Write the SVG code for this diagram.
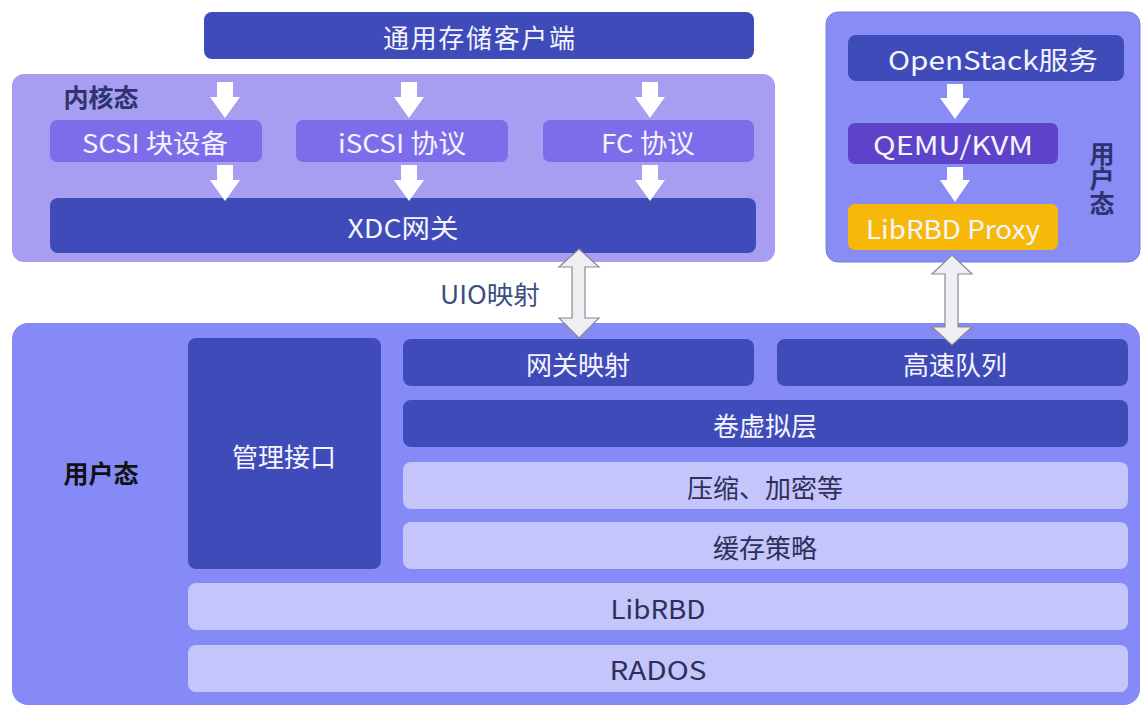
<svg xmlns="http://www.w3.org/2000/svg" width="1142" height="707" viewBox="0 0 1142 707">
<defs>
<style>
text{font-family:"Noto Sans CJK SC","Noto Sans",sans-serif;text-anchor:middle;dominant-baseline:central}
.t{fill:#f4f4ff;font-size:26px}
.td{fill:#2f2f5a;font-size:26px}
.dark{fill:#3f4bb8}
.mid{fill:#7e6deb}
.light{fill:#c4c5fb}
.lbl{font-size:25px;font-weight:bold}
.wa{fill:#ffffff}
.da{fill:#efeff3;stroke:#8a8a90;stroke-width:1.2}
</style>
</defs>
<rect width="1142" height="707" fill="#ffffff"/>
<g id="client">
<rect x="204" y="12" width="550" height="47" rx="8" class="dark"/>
<text x="479" y="36" class="t" textLength="192">通用存储客户端</text>
</g>
<g id="kernel">
<rect x="12" y="74" width="763" height="188" rx="12" fill="#a89ef1"/>
<text x="101" y="96" class="lbl" fill="#2d3370">内核态</text>
</g>
<g id="scsi">
<rect x="50" y="120" width="212" height="42" rx="7" class="mid"/>
<text x="155" y="141" class="t" textLength="146" lengthAdjust="spacingAndGlyphs">SCSI 块设备</text>
</g>
<g id="iscsi">
<rect x="296" y="120" width="212" height="42" rx="7" class="mid"/>
<text x="402" y="141" class="t" textLength="128" lengthAdjust="spacingAndGlyphs">iSCSI 协议</text>
</g>
<g id="fc">
<rect x="543" y="120" width="211" height="42" rx="7" class="mid"/>
<text x="648" y="141" class="t" textLength="94" lengthAdjust="spacingAndGlyphs">FC 协议</text>
</g>
<g id="xdc">
<rect x="50" y="198" width="706" height="55" rx="8" class="dark"/>
<text x="403" y="226" class="t" textLength="111" lengthAdjust="spacingAndGlyphs">XDC网关</text>
</g>
<g id="userbox-right">
<rect x="826" y="12" width="314" height="250" rx="12" fill="#8a8cf6" stroke="#7a7cd8" stroke-width="1"/>
<text x="1102" y="178" class="lbl" fill="#2d3370" style="writing-mode:vertical-rl">用户态</text>
</g>
<g id="openstack">
<rect x="848" y="35" width="276" height="46" rx="8" class="dark"/>
<text x="993" y="58" class="t" textLength="210" lengthAdjust="spacingAndGlyphs">OpenStack服务</text>
</g>
<g id="qemu">
<rect x="848" y="123" width="210" height="41" rx="7" fill="#5d43c9"/>
<text x="953" y="143" class="t" textLength="160" lengthAdjust="spacingAndGlyphs">QEMU/KVM</text>
</g>
<g id="librbdproxy">
<rect x="848" y="204" width="210" height="46" rx="7" fill="#f6b90a"/>
<text x="953" y="227" class="t" textLength="174" lengthAdjust="spacingAndGlyphs">LibRBD Proxy</text>
</g>
<g id="userbox-bottom">
<rect x="12" y="323" width="1128" height="382" rx="16" fill="#868af7"/>
<text x="101" y="472" class="lbl" fill="#111111">用户态</text>
</g>
<g id="mgmt">
<rect x="188" y="338" width="193" height="231" rx="8" class="dark"/>
<text x="284" y="455" class="t">管理接口</text>
</g>
<g id="gwmap">
<rect x="403" y="339" width="351" height="47" rx="8" class="dark"/>
<text x="578" y="363" class="t">网关映射</text>
</g>
<g id="queue">
<rect x="777" y="339" width="351" height="47" rx="8" class="dark"/>
<text x="955" y="363" class="t">高速队列</text>
</g>
<g id="volume">
<rect x="403" y="400" width="725" height="47" rx="8" class="dark"/>
<text x="765" y="424" class="t">卷虚拟层</text>
</g>
<g id="compress">
<rect x="403" y="462" width="725" height="47" rx="8" class="light"/>
<text x="765" y="486" class="td">压缩、加密等</text>
</g>
<g id="cache">
<rect x="403" y="522" width="725" height="47" rx="8" class="light"/>
<text x="765" y="546" class="td">缓存策略</text>
</g>
<g id="librbd">
<rect x="188" y="583" width="940" height="47" rx="8" class="light"/>
<text x="658" y="607" class="td" textLength="95" lengthAdjust="spacingAndGlyphs">LibRBD</text>
</g>
<g id="rados">
<rect x="188" y="645" width="940" height="47" rx="8" class="light"/>
<text x="658" y="668" class="td" textLength="97" lengthAdjust="spacingAndGlyphs">RADOS</text>
</g>
<g id="connectors">
<polygon class="wa" points="217,82 233,82 233,97 240,97 225,118 210,97 217,97"/>
<polygon class="wa" points="217,165 233,165 233,180 240,180 225,201 210,180 217,180"/>
<polygon class="wa" points="401,82 417,82 417,97 424,97 409,118 394,97 401,97"/>
<polygon class="wa" points="401,165 417,165 417,180 424,180 409,201 394,180 401,180"/>
<polygon class="wa" points="642,82 658,82 658,97 665,97 650,118 635,97 642,97"/>
<polygon class="wa" points="642,165 658,165 658,180 665,180 650,201 635,180 642,180"/>
<polygon class="wa" points="947,84 963,84 963,98 970,98 955,119 940,98 947,98"/>
<polygon class="wa" points="947,167 963,167 963,180 970,180 955,202 940,180 947,180"/>
<polygon class="da" points="579,249 599,267 585,267 585,318 599,318 579,338 559,318 572,318 572,267 559,267"/>
<polygon class="da" points="952,255 972,274 958,274 958,327 972,327 952,345 932,327 945,327 945,274 932,274"/>
<text x="490" y="293" font-size="25" fill="#3b4f80" textLength="100" lengthAdjust="spacingAndGlyphs">UIO映射</text>
</g>
</svg>
